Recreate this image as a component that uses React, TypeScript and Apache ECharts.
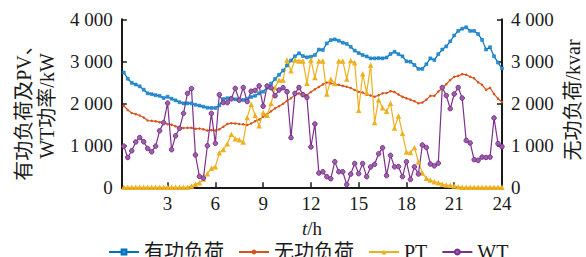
import React, { useEffect, useRef } from "react";
import * as echarts from "echarts";

// time of each sample (15-minute steps, hours)
const hours: number[] = Array.from({ length: 96 }, (_, i) => (i + 1) * 0.25);

const xTickValues = [3, 6, 9, 12, 15, 18, 21, 24];

const seriesNames = ["有功负荷", "无功负荷", "PT", "WT"];

const activeLoad = [
  2732, 2585, 2487, 2447, 2403, 2324, 2237, 2217, 2193, 2177,
  2125, 2157, 2110, 2070, 2026, 1998, 1999, 1999, 1965, 1945,
  1920, 1895, 1890, 1890, 1950, 2100, 2120, 2130, 2095, 2095,
  2080, 2105, 2150, 2180, 2237, 2276, 2370, 2470, 2580, 2680,
  2780, 2900, 3020, 3120, 3190, 3125, 3095, 3110, 3150, 3280,
  3270, 3427, 3506, 3522, 3490, 3443, 3415, 3345, 3255, 3195,
  3150, 3115, 3070, 3070, 3075, 3070, 3090, 3175, 3228, 3170,
  3118, 3000, 2990, 2911, 2820, 2820, 2930, 3070, 3030, 3170,
  3280, 3355, 3475, 3615, 3724, 3776, 3810, 3724, 3724, 3650,
  3510, 3280, 3335, 3120, 2970, 2832,
];

const reactiveLoad = [
  1938, 1840, 1770, 1741, 1710, 1662, 1590, 1582, 1570, 1550,
  1531, 1503, 1491, 1451, 1423, 1412, 1416, 1416, 1392, 1400,
  1380, 1350, 1360, 1350, 1380, 1440, 1505, 1525, 1520, 1507,
  1499, 1483, 1520, 1575, 1615, 1680, 1740, 1810, 1880, 1930,
  1990, 2060, 2120, 2200, 2235, 2215, 2197, 2270, 2335, 2390,
  2450, 2495, 2475, 2455, 2440, 2415, 2395, 2363, 2316, 2276,
  2256, 2205, 2185, 2157, 2190, 2240, 2245, 2288, 2268, 2210,
  2153, 2118, 2086, 2050, 2000, 2018, 2086, 2177, 2177, 2280,
  2360, 2455, 2554, 2633, 2653, 2693, 2680, 2633, 2594, 2500,
  2440, 2320, 2370, 2220, 2110, 2030,
];

const pvPower = [
  0, 0, 0, 0, 0, 0, 0, 0, 0, 0,
  0, 0, 0, 0, 0, 0, 0, 30, 75, 110,
  195, 325, 452, 491, 820, 900, 1035, 1265, 1158, 1134,
  1078, 1662, 1979, 1713, 1463, 1780, 1713, 1995, 2378, 2554,
  2554, 3030, 2776, 3030, 3010, 3010, 2480, 3030, 2617, 3007,
  3007, 2220, 2570, 2474, 3007, 3007, 2580, 3018, 2966, 1836,
  2704, 2256, 2910, 1542, 2086, 1892, 1808, 2000, 1412, 1700,
  1285, 840, 828, 948, 610, 340, 214, 174, 133, 110,
  79, 55, 47, 31, 16, 0, 0, 0, 0, 0,
  0, 0, 0, 0, 0, 0,
];

const wtPower = [
  980, 710, 870, 1080, 1185, 1085, 925, 845, 980, 1345,
  1540, 2005, 895, 1225, 1404, 1761, 2237, 2350, 769, 260,
  218, 990, 1761, 1047, 2205, 2018, 2015, 2105, 2355, 2074,
  2375, 2042, 2288, 2308, 2415, 1930, 2411, 2370, 2181, 2316,
  2371, 2276, 1182, 2236, 2375, 2205, 2140, 960, 1507, 340,
  370, 253, 205, 610, 370, 370, 65, 315, 565, 325,
  565, 253, 485, 547, 797, 940, 277, 761, 487, 494,
  253, 610, 186, 487, 317, 1007, 948, 555, 511, 574,
  2376, 2185, 1872, 2221, 2376, 2125, 1115, 1055, 658, 642,
  718, 710, 718, 1650, 1040, 967,
];

const FONT = "'Liberation Serif', 'Noto Sans CJK SC', serif";
const INK = "#1a1a1a";

function fmt(v: number): string {
  if (v >= 1000) {
    const k = Math.floor(v / 1000);
    const r = String(v % 1000).padStart(3, "0");
    return k + " " + r;
  }
  return String(v);
}

export default function App() {
  const ref = useRef<HTMLDivElement>(null);

  useEffect(() => {
    if (!ref.current) return;
    const chart = echarts.init(ref.current, null, { renderer: "svg" });

    const pair = (arr: number[]) => hours.map((h, i) => [h, arr[i]]);
    const axisLineStyle = { color: INK, width: 2 };

    const yAxisBase = {
      type: "value",
      min: 0,
      max: 4000,
      interval: 1000,
      splitLine: { show: false },
      axisLine: { show: true, lineStyle: axisLineStyle },
      axisTick: { show: true, inside: true, length: 5, lineStyle: { color: INK, width: 1.5 } },
      axisLabel: {
        formatter: (v: number) => fmt(v),
        fontFamily: FONT,
        fontSize: 19,
        color: INK,
        margin: 9,
      },
    };

    const option = {
      animation: false,
      backgroundColor: "#ffffff",
      grid: { left: 121.8, top: 19.3, width: 380.2, height: 168, containLabel: false },
      xAxis: {
        type: "value",
        min: 0.125,
        max: 24,
        name: "{i|t}/h",
        nameLocation: "middle",
        nameGap: 41,
        nameTextStyle: {
          fontFamily: FONT,
          fontSize: 19,
          color: INK,
          verticalAlign: "middle",
          rich: { i: { fontStyle: "italic", fontFamily: FONT, fontSize: 19, color: INK } },
        },
        splitLine: { show: false },
        axisLine: { show: true, lineStyle: axisLineStyle },
        axisTick: {
          show: true,
          inside: true,
          length: 5,
          customValues: xTickValues,
          lineStyle: { color: INK, width: 1.5 },
        },
        axisLabel: {
          customValues: xTickValues,
          fontFamily: FONT,
          fontSize: 19,
          color: INK,
          margin: 7,
        },
      },
      yAxis: [
        { ...yAxisBase, position: "left" },
        { ...yAxisBase, position: "right" },
      ],
      legend: {
        left: 103,
        top: 237,
        itemWidth: 30,
        itemHeight: 6,
        itemGap: 14,
        data: seriesNames,
        textStyle: { fontFamily: FONT, fontSize: 20, color: INK },
      },
      graphic: [
        {
          type: "text",
          x: 24,
          y: 108,
          rotation: Math.PI / 2,
          style: {
            text: "有功负荷及PV、",
            fontFamily: FONT,
            fontSize: 20,
            fill: INK,
            align: "center",
            verticalAlign: "middle",
          },
        },
        {
          type: "text",
          x: 47,
          y: 106,
          rotation: Math.PI / 2,
          style: {
            text: "WT功率/kW",
            fontFamily: FONT,
            fontSize: 20,
            fill: INK,
            align: "center",
            verticalAlign: "middle",
          },
        },
        {
          type: "text",
          x: 573,
          y: 100,
          rotation: Math.PI / 2,
          style: {
            text: "无功负荷/kvar",
            fontFamily: FONT,
            fontSize: 20,
            fill: INK,
            align: "center",
            verticalAlign: "middle",
          },
        },
      ],
      series: [
        {
          name: seriesNames[0],
          type: "line",
          yAxisIndex: 0,
          data: pair(activeLoad),
          symbol: "rect",
          symbolSize: 3,
          lineStyle: { width: 1.2, color: "#0072BD" },
          itemStyle: { color: "#2f8fd0", borderColor: "#0072BD", borderWidth: 0.5 },
        },
        {
          name: seriesNames[1],
          type: "line",
          yAxisIndex: 1,
          data: pair(reactiveLoad),
          symbol: "circle",
          symbolSize: 2.5,
          lineStyle: { width: 1.2, color: "#D95319" },
          itemStyle: { color: "#D95319" },
        },
        {
          name: seriesNames[2],
          type: "line",
          yAxisIndex: 0,
          data: pair(pvPower),
          symbol: "triangle",
          symbolSize: 5.5,
          lineStyle: { width: 1.2, color: "#EDB120" },
          itemStyle: { color: "#EDB120" },
        },
        {
          name: seriesNames[3],
          type: "line",
          yAxisIndex: 0,
          data: pair(wtPower),
          symbol: "circle",
          symbolSize: 4.5,
          lineStyle: { width: 1.2, color: "#7E2F8E" },
          itemStyle: { color: "#9a62a8", borderColor: "#7E2F8E", borderWidth: 1 },
        },
      ],
    };

    chart.setOption(option as any);
    return () => chart.dispose();
  }, []);

  return (
    <div
      ref={ref}
      style={{ position: "fixed", left: 0, top: 0, width: 586, height: 257, background: "#fff" }}
    />
  );
}
